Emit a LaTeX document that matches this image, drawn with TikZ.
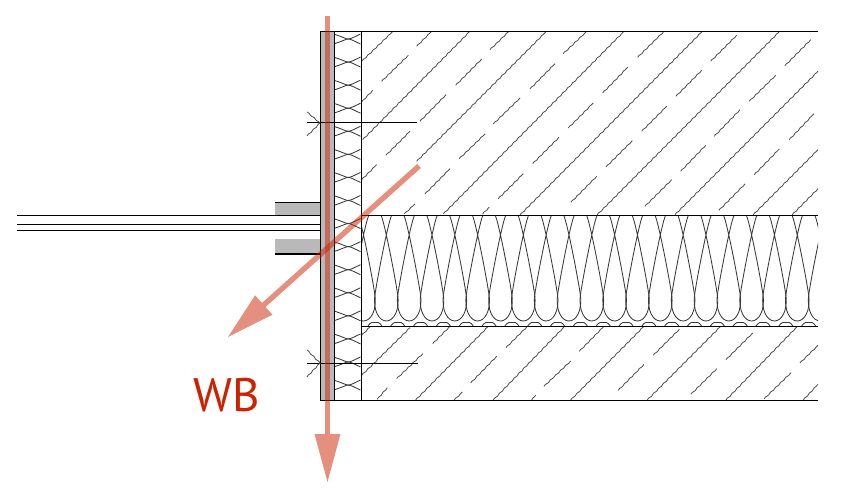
\documentclass[tikz,border=0pt]{standalone}
\usepackage{fontspec}
\setmainfont{PT Sans}
\usetikzlibrary{arrows.meta,decorations.pathmorphing}
\definecolor{wbred}{RGB}{204,34,0}
\definecolor{layergray}{RGB}{185,185,185}
\tikzstyle{wall}=[draw=black, line width=1pt]
\tikzstyle{hatchline}=[draw=black!70, line width=.8pt, decorate, decoration={snake, amplitude=.4pt, segment length=7pt}]
\tikzstyle{batt}=[draw=black!78, line width=.85pt]
\tikzstyle{flow}=[draw=wbred, opacity=.5, line width=5.4pt, -{Triangle[length=48pt,width=26pt,line width=0pt]}]

\begin{document}
\begin{tikzpicture}[x=1pt,y=-1pt]
    \useasboundingbox (0,0) rectangle (842,502);
    % outer layer and window frame
    \fill[layergray] (320.5,31) rectangle (334,400);
    \fill[layergray] (275,202.5) rectangle (320.5,215);
    \fill[layergray] (275,239) rectangle (320.5,253.5);
    % concrete hatch
    \foreach \xa/\ya/\xb/\yb in {
    361.7/61.3/392.3/32, 416.7/46.3/431/32, 381.7/81.3/408.3/55.3, 361.7/102/372.7/90.3,
    362.7/139.7/469.3/32, 490/49.7/508.3/32, 420/121.3/446/94.7, 455.7/85.3/481.7/59,
    416.7/161.3/545.7/32, 563.3/53.7/586/32, 530/89/555/63.7, 493.3/124/520/98,
    386/155.3/410/131.3, 361.7/179.7/376.7/164.7, 459.3/158.7/485/134, 425/194/450/168.7,
    443.3/214/623.3/32, 404.3/214/415/204, 482.7/214/489.3/207, 498.3/198.7/523.3/173.7,
    532.7/163.7/559/137.3, 568.3/128/593.3/103, 520/215/701.7/32, 571/202.3/596.7/176.3,
    637.7/57.3/663.3/32, 602.7/93/627.7/67.3, 710.7/61.3/736.7/35.3, 676/96.3/701.7/70.3,
    641.7/131.3/666.7/106.3, 606/167/632.3/140.7, 597.3/214.7/779/32, 785/65.7/810.7/39.7,
    749.3/101.3/775.7/75.3, 714.3/136.3/740/109.7, 680.7/171.3/705.7/145.3, 645/206.3/671.7/179.7,
    675/214.7/818/71.3, 789.3/139.7/814/113.7, 754.3/174.7/779.3/149, 719/210.3/745/184,
    753.3/214.7/818/149.7, 792.3/214.7/818/188.7,
    361.7/335.3/370/327, 361.7/375.3/410/327.7, 432.7/343.7/449.3/327, 396.7/378.7/422.7/353.7,
    377.3/399.3/387.3/387.7, 415.7/400/487.7/327, 506/347.7/526.7/327, 470.7/383/496.7/356.3,
    454.3/400/462.3/392, 493.3/400/564/327, 579.3/351.3/603.3/327, 544/386.3/570.7/361,
    531.7/400/535.7/395.3, 570.7/400/643.3/327, 653.3/355.3/679.3/329.3, 618.3/390.3/644/364.3,
    647.3/400/720/327, 726/359.7/752.7/333, 691/394.3/716.7/368.7, 726/400/796.7/327,
    800/363/818/345.3, 764.3/398.7/791/372.7, 803.3/400/818/384.3}
    \path[hatchline] (\xa,\ya) -- (\xb,\yb);
    % crossed insulation
    \foreach \k in {0,...,15}{
    \pgfmathsetmacro{\yk}{39+23.07*\k}
    \draw[batt] (335,\yk-4.5) .. controls (343,\yk-2) and (346,\yk) .. (348,\yk) .. controls (351,\yk) and (354,\yk+2) .. (360.5,\yk+5);
    \draw[batt] (335,\yk+4.5) .. controls (343,\yk+2) and (346,\yk) .. (348,\yk) .. controls (351,\yk) and (354,\yk-2) .. (360.5,\yk-5);
    }
    % batt insulation
    \begin{scope}
    \clip (361,215) rectangle (818,326);
    \foreach \k in {0,...,20}{
    \pgfmathsetmacro{\c}{363.5+22.83*\k}
    \draw[batt] (\c+5,216) .. controls (\c+1.5,224) and (\c-9,278) .. (\c-11.4,295)
    .. controls (\c-13.5,311) and (\c-7,321) .. (\c,321)
    .. controls (\c+7,321) and (\c+13.5,311) .. (\c+11.4,295)
    .. controls (\c+9,278) and (\c-1.5,224) .. (\c-5,216);
    \draw[batt] (\c+4.4,326) .. controls (\c+7,322) and (\c+9.5,322) .. (\c+11.4,322.5)
    .. controls (\c+13.5,322) and (\c+16,322) .. (\c+18.4,326);
    }
    \end{scope}
    % wall lines
    \draw[wall] (320.5,31.5) -- (818,31.5);
    \draw[wall] (320.5,400.5) -- (818,400.5);
    \draw[wall] (320.5,31) -- (320.5,401);
    \draw[wall] (334,31) -- (334,401);
    \draw[wall] (361,31) -- (361,401);
    \draw[wall] (361,215.5) -- (818,215.5);
    \draw[wall] (361,326.5) -- (818,326.5);
    \draw[wall] (307,122.5) -- (417,122.5);
    \draw[wall] (307,363.5) -- (417.5,363.5);
    \path[hatchline] (307,112) -- (320,123);
    \path[hatchline] (307,136) -- (320,123);
    \path[hatchline] (307,350) -- (320,363);
    \path[hatchline] (307,377) -- (320,363);
    % window
    \draw[wall] (17,215.5) -- (320.5,215.5);
    \draw[wall] (17,224.5) -- (320.5,224.5);
    \draw[wall] (17,230.5) -- (320.5,230.5);
    \draw[wall] (275,202.5) -- (320.5,202.5);
    \draw[wall, line width=1.5pt] (275,254) -- (320.5,254);
    % heat flow
    \coordinate (top) at (327.5,16);
    \coordinate (bottom) at (327.5,482);
    \coordinate (inner) at (419,166);
    \coordinate (outer) at (228,337);
    \path[flow] (top) -- (bottom);
    \path[flow] (inner) -- (outer);
    \node[text=wbred, font=\fontsize{47}{47}\selectfont, inner sep=0pt] (wb) at (227,395.5) {WB};
\end{tikzpicture}
\end{document}
